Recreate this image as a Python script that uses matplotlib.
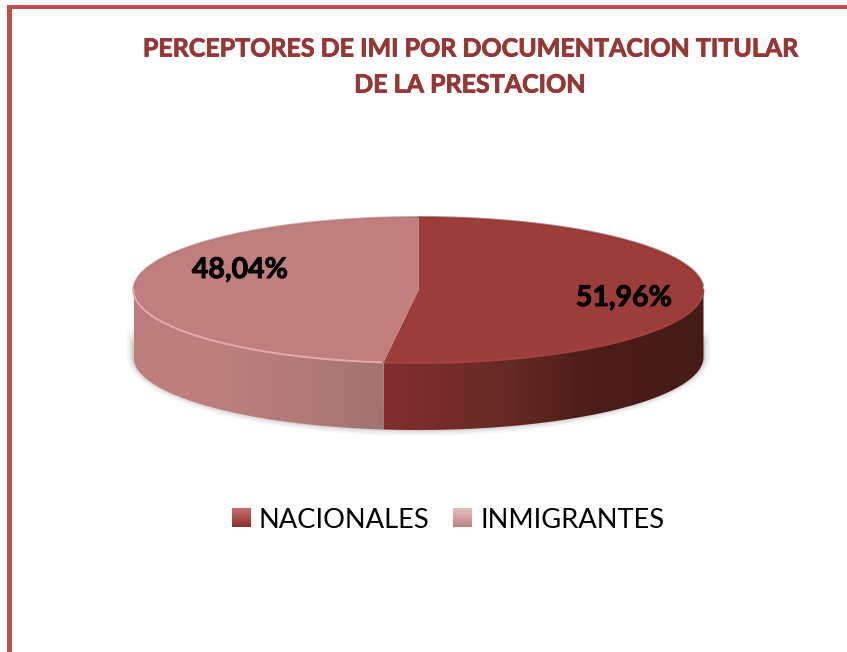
import numpy as np
import matplotlib
matplotlib.use("Agg")
import matplotlib.pyplot as plt
import matplotlib.patheffects as pe
from matplotlib.colors import LinearSegmentedColormap
from matplotlib.legend_handler import HandlerBase
from matplotlib.patches import Polygon, Rectangle

# Data
categories = ["NACIONALES", "INMIGRANTES"]
values = [51.96, 48.04]
value_labels = ["51,96%", "48,04%"]
title_lines = ["PERCEPTORES DE IMI POR DOCUMENTACION TITULAR", "DE LA PRESTACION"]

# Colours
top_colors = ["#9c3d3a", "#c07f7e"]
wall_colors = [["#822f2d", "#6b2a26", "#4b1d19", "#451a17"], ["#bd7d7c", "#bd7f7e", "#b27a78", "#a1736f"]]
legend_colors = [("#c26a6a", "#8f2f2f"), ("#e2bcbc", "#bd8282")]
border_color = "#c0504d"
title_color = "#953735"

# Pie geometry in pixels
cx, cy = 418.5, 290
rx, ry = 285, 73
depth = 67

plt.rcParams["font.family"] = ["Lato", "DejaVu Sans"]

fig = plt.figure(figsize=(8.47, 6.52), dpi=100)
ax = fig.add_axes([0, 0, 1, 1])
ax.set_xlim(0, 847)
ax.set_ylim(652, 0)
ax.axis("off")


def rim(a0, a1, dy=0.0, grow=0.0, n=200):
    # angles are clockwise from twelve o'clock
    t = np.linspace(a0, a1, n)
    return np.column_stack([cx + (rx + grow) * np.sin(t), cy + dy - (ry + grow) * np.cos(t)])


fractions = np.array(values) / sum(values)
edges = np.concatenate([[0], np.cumsum(fractions)]) * 2 * np.pi

# Soft shadow under the disc
for g, a in zip([7, 5, 3, 1.5], [0.03, 0.05, 0.07, 0.1]):
    t = (np.pi / 2, 3 * np.pi / 2)
    low = rim(t[0], t[1], dy=depth - 1, grow=g)
    up = rim(t[1], t[0], dy=depth * 0.55, grow=g)
    ax.fill(*np.vstack([low, up]).T, color="#3a1a1a", alpha=a, lw=0, zorder=1)

# Side walls, only the front half of the rim can be seen
for i in range(2):
    a0 = max(edges[i], np.pi / 2)
    a1 = min(edges[i + 1], 3 * np.pi / 2)
    upper = rim(a0, a1)
    lower = rim(a1, a0, dy=depth)
    wall = Polygon(np.vstack([upper, lower]), closed=True, fc="none", ec="none", transform=ax.transData)
    ax.add_patch(wall)
    xs = np.vstack([upper, lower])[:, 0]
    cmap = LinearSegmentedColormap.from_list("wall%d" % i, wall_colors[i])
    grad = np.linspace(0, 1, 256)[None, :]
    im = ax.imshow(grad, cmap=cmap, aspect="auto", zorder=2, extent=[xs.min(), xs.max(), cy + ry + depth, cy], interpolation="bilinear")
    im.set_clip_path(wall)

# Top face
for i in range(2):
    pts = np.vstack([[cx, cy], rim(edges[i], edges[i + 1])])
    ax.add_patch(Polygon(pts, closed=True, fc=top_colors[i], ec="none", zorder=3))

# Darker upper rim and light edge along the front of the second slice
ax.plot(*rim(0, 0.48 * np.pi).T, color="#84302e", lw=1.5, alpha=0.6, zorder=4)
ax.plot(*rim(edges[2] - 0.6 * np.pi, edges[2]).T, color="#a96f6e", lw=1.5, alpha=0.6, zorder=4)
ax.plot(*rim(edges[1], 3 * np.pi / 2).T, color="#e5aaa9", lw=1.4, zorder=4)
ax.plot(*rim(np.pi / 2, edges[1]).T, color="#a8423f", lw=1.2, zorder=4)

# Value labels
heavy = [pe.withStroke(linewidth=0.7, foreground="black")]
ax.text(624, 298, value_labels[0], fontsize=20.5, fontweight="bold", color="black", ha="center", va="center", zorder=5, path_effects=heavy)
ax.text(240, 270, value_labels[1], fontsize=20.5, fontweight="bold", color="black", ha="center", va="center", zorder=5, path_effects=heavy)

# Title
title_heavy = [pe.withStroke(linewidth=0.6, foreground=title_color)]
ax.text(471, 49, title_lines[0], fontsize=18, fontweight="bold", color=title_color, ha="center", va="center", path_effects=title_heavy)
ax.text(470, 85, title_lines[1], fontsize=18, fontweight="bold", color=title_color, ha="center", va="center", path_effects=title_heavy)

# Border, left and top only
ax.add_patch(Rectangle((7, 5), 5, 647, fc=border_color, ec="none", zorder=6))
ax.add_patch(Rectangle((7, 5), 840, 3.5, fc=border_color, ec="none", zorder=6))


class GradientSquare(HandlerBase):
    def create_artists(self, legend, orig_handle, xdescent, ydescent, width, height, fontsize, trans):
        light, dark = orig_handle.get_gid().split(",")
        side = 13.5
        cmap = LinearSegmentedColormap.from_list("sq", [dark, light])
        x0 = (width - side) / 2 - xdescent
        y0 = (height - side) / 2 - ydescent
        artists = []
        for k in range(9):
            artists.append(Rectangle((x0, y0 + k * side / 9), side, side / 9 + 0.2, fc=cmap(k / 8), ec="none", transform=trans))
        return artists


handles = []
for name, (light, dark) in zip(categories, legend_colors):
    h = Rectangle((0, 0), 1, 1, label=name)
    h.set_gid(light + "," + dark)
    handles.append(h)

ax.legend(
    handles=handles,
    handler_map={Rectangle: GradientSquare()},
    loc="center",
    bbox_to_anchor=(448, 520),
    bbox_transform=ax.transData,
    ncol=2,
    frameon=False,
    fontsize=19.6,
    handlelength=0.7,
    handletextpad=0.3,
    columnspacing=0.85,
    labelcolor="black",
)

fig.savefig("out.png", dpi=100)
